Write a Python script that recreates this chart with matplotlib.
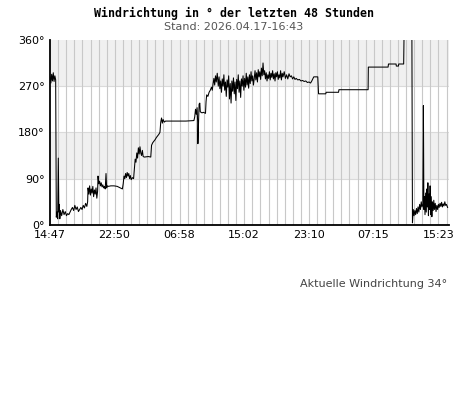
import numpy as np
import matplotlib
matplotlib.use("Agg")
import matplotlib.pyplot as plt

# time in hours since 14:47, wind direction in degrees
zeit_h = [
    0.00, 0.10, 0.20, 0.30, 0.40, 0.50, 0.60, 0.70,
    0.78, 0.88, 0.95, 1.03, 1.10, 1.15, 1.22, 1.30, 1.45, 1.60, 1.75, 1.90,
    2.05, 2.20, 2.35, 2.50, 2.65, 2.80, 2.95, 3.10, 3.25, 3.40, 3.55, 3.70,
    3.85, 4.00, 4.15, 4.30, 4.45, 4.60,
    4.70, 4.75, 4.85, 4.95, 5.05, 5.15, 5.25, 5.35, 5.45, 5.55, 5.65, 5.75,
    5.85, 5.95, 6.00, 6.10, 6.20, 6.30, 6.40, 6.50, 6.60, 6.70, 6.80, 6.90,
    7.00, 7.08, 7.15, 7.30, 7.60, 8.00, 8.40, 8.80, 9.05,
    9.15, 9.25, 9.35, 9.45, 9.55, 9.65, 9.75, 9.85, 9.95, 10.05, 10.15, 10.30,
    10.45, 10.55, 10.65, 10.75, 10.85, 10.95, 11.05, 11.15, 11.25, 11.35,
    11.45, 11.55, 11.65, 11.80, 12.30, 12.60, 12.70, 12.85, 13.00, 13.15,
    13.30, 13.45, 13.60, 13.75, 13.85, 13.95, 14.05, 14.15, 14.30, 14.45,
    15.00, 16.00, 17.00, 18.00,
    18.10, 18.20, 18.30, 18.40, 18.47, 18.50, 18.56, 18.65, 18.74, 18.80,
    19.00, 19.20, 19.45, 19.52, 19.60, 19.75, 19.90, 20.05, 20.20, 20.30,
    20.40, 20.50, 20.60, 20.70, 20.80, 20.92,
    21.05, 21.15, 21.25, 21.35, 21.45, 21.55, 21.65, 21.75, 21.85, 21.95,
    22.05, 22.15, 22.25, 22.35, 22.45, 22.55, 22.65, 22.75, 22.85, 22.95,
    23.05, 23.15, 23.25, 23.35, 23.45, 23.55, 23.65, 23.75, 23.85, 23.95,
    24.05, 24.15, 24.25, 24.35, 24.45, 24.55, 24.65, 24.75, 24.85, 24.95,
    25.05, 25.15, 25.25, 25.35, 25.45,
    25.55, 25.65, 25.75, 25.85, 25.95, 26.05, 26.15, 26.25, 26.35, 26.45,
    26.55, 26.65, 26.75, 26.85, 26.95, 27.05, 27.15,
    27.25, 27.35, 27.45, 27.55, 27.65, 27.75, 27.85, 27.95, 28.05, 28.15,
    28.25, 28.35, 28.45, 28.55, 28.65, 28.75, 28.85, 28.95, 29.05, 29.15,
    29.30, 29.45, 29.60, 29.75, 29.90, 30.05,
    30.20, 30.35, 30.50, 30.65, 30.80, 31.00, 31.20, 31.40, 31.60, 31.80,
    32.00, 32.20, 32.40, 32.60, 32.75, 32.90, 33.00, 33.50,
    33.60, 34.50, 34.55, 36.10, 36.15, 39.80, 39.83, 42.30, 42.35, 43.30,
    43.33, 43.60, 43.63, 44.25, 44.30, 45.25, 45.28,
    45.35, 45.45, 45.55, 45.65, 45.75, 45.85, 45.95, 46.05, 46.15, 46.25,
    46.35, 46.45, 46.55, 46.65, 46.72, 46.78, 46.85, 46.92, 47.00, 47.08,
    47.15, 47.22, 47.28, 47.35, 47.42, 47.50, 47.56, 47.63, 47.70, 47.78,
    47.85, 47.94, 48.02, 48.10, 48.20, 48.30, 48.40, 48.50, 48.60, 48.69,
    48.80, 48.90, 49.00, 49.10, 49.20, 49.30, 49.40, 49.50, 49.60, 49.75,
]
richtung_deg = [
    288, 276, 293, 280, 296, 279, 290, 282,
    15, 25, 12, 130, 25, 40, 12, 28, 18, 30, 20, 26,
    18, 22, 20, 25, 30, 34, 28, 38, 30, 35, 26, 30,
    34, 30, 38, 33, 42, 36,
    45, 72, 60, 76, 58, 70, 62, 75, 55, 68, 60, 72,
    52, 66, 95, 80, 85, 76, 82, 74, 78, 72, 75, 70,
    100, 72, 76, 75, 76, 76, 75, 72, 70,
    80, 95, 90, 100, 92, 102, 95, 100, 90, 96, 88, 92,
    90, 110, 128, 122, 140, 130, 150, 138, 152, 140,
    135, 145, 133, 132, 133, 132, 155, 160, 163, 166,
    170, 173, 176, 180, 200, 208, 198, 205, 200, 202,
    202, 202, 202, 203,
    210, 225, 215, 228, 200, 158, 190, 235, 237, 220,
    218, 219, 217, 240, 253, 250, 258, 262, 268, 262,
    275, 285, 272, 290, 278, 295,
    270, 288, 265, 280, 258, 284, 270, 292, 262, 278,
    250, 282, 268, 290, 245, 275, 237, 280, 260, 286,
    255, 278, 242, 283, 265, 292, 258, 280, 248, 284,
    270, 290, 262, 285, 268, 295, 272, 288, 266, 292,
    275, 298, 280, 290, 272,
    285, 300, 282, 296, 278, 302, 288, 298, 283, 305,
    290, 315, 292, 300, 284, 296, 280,
    292, 285, 298, 282, 295, 287, 300, 284, 294, 280,
    296, 288, 298, 283, 292, 286, 300, 282, 295, 288,
    298, 285, 292, 284, 294, 288,
    290, 284, 288, 283, 285, 282, 283, 280, 281, 279,
    280, 277, 278, 276, 280, 285, 288, 288,
    255, 255, 258, 258, 263, 263, 307, 307, 313, 313,
    309, 309, 313, 313, 372, 372, 365,
    4, 30, 18, 28, 20, 32, 22, 35, 25, 40,
    30, 45, 35, 40, 232, 30, 55, 20, 62, 25,
    70, 35, 82, 18, 60, 30, 76, 20, 55, 16,
    45, 28, 48, 30, 42, 26, 38, 30, 40, 34,
    42, 36, 44, 35, 41, 37, 45, 38, 40, 34,
]

tick_labels = ["14:47", "22:50", "06:58", "15:02", "23:10", "07:15", "15:23"]
y_ticks = [0, 90, 180, 270, 360]

# hours since first label, wrapping past midnight
tick_pos = []
day = 0
prev = None
for lab in tick_labels:
    hh, mm = map(int, lab.split(":"))
    t = hh + mm / 60
    if prev is not None and t < prev:
        day += 24
    prev = t
    tick_pos.append(t + day - (14 + 47 / 60))

fig = plt.figure(figsize=(4.68, 4.15), dpi=100)
ax = fig.add_axes([0.107, 0.458, 0.852, 0.446])

# grey bands + grid
ax.axhspan(270, 360, color="#f0f0f0", zorder=0, lw=0)
ax.axhspan(90, 180, color="#f0f0f0", zorder=0, lw=0)
for y in [90, 180, 270]:
    ax.axhline(y, color="#dadada", lw=0.8, zorder=1)
step = tick_pos[-1] / 48
for x in np.arange(step, 49.9, step):
    ax.axvline(x, color="#c8c8c8", lw=0.8, zorder=1)

ax.plot(zeit_h, richtung_deg, color="black", lw=0.75, zorder=3)

ax.set_xlim(0, 49.9)
ax.set_ylim(0, 360)
ax.set_xticks(tick_pos)
ax.set_xticklabels(tick_labels)
ax.set_yticks(y_ticks)
ax.set_yticklabels([f"{v}°" for v in y_ticks])
ax.tick_params(length=0, labelsize=8, pad=4)
ax.spines["top"].set_visible(False)
ax.spines["right"].set_visible(False)
ax.spines["left"].set_linewidth(1.3)
ax.spines["bottom"].set_linewidth(1.3)

fig.text(0.5, 1 - 13 / 415, "Windrichtung in ° der letzten 48 Stunden",
         ha="center", va="center", family="DejaVu Sans Mono",
         fontweight="bold", fontsize=8.4)
fig.text(0.5, 1 - 27 / 415, "Stand: 2026.04.17-16:43", ha="center",
         va="center", fontsize=8, color="#555555")
fig.text(447 / 468, 1 - 284 / 415, "Aktuelle Windrichtung 34°", ha="right",
         va="center", fontsize=8, color="#444444")

fig.savefig("out.png", dpi=100)
